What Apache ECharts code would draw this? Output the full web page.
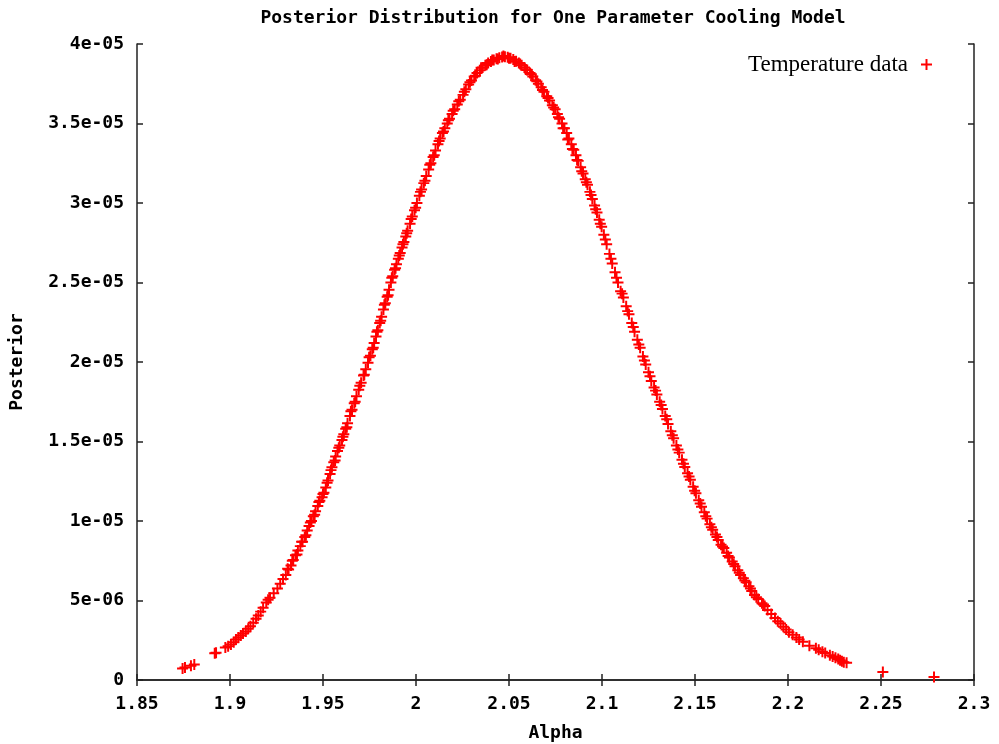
<!DOCTYPE html>
<html>
<head>
<meta charset="utf-8">
<script src="https://cdn.jsdelivr.net/npm/echarts@6/dist/echarts.min.js"></script>
<style>html,body{margin:0;padding:0;background:#fff}#c{width:999px;height:744px}</style>
</head>
<body>
<div id="c"></div>
<script>
const titleText = 'Posterior Distribution for One Parameter Cooling Model';
const xName = 'Alpha';
const yName = 'Posterior';
const seriesName = 'Temperature data';
const xTicks = [1.85, 1.9, 1.95, 2, 2.05, 2.1, 2.15, 2.2, 2.25, 2.3];
const yTicks = [0, 5e-6, 1e-5, 1.5e-5, 2e-5, 2.5e-5, 3e-5, 3.5e-5, 4e-5];

const alpha = [
1.8745,1.8758,1.8790,1.8808,1.8918,1.8925,1.8975,1.8990,1.9005,1.9020,1.9032,1.9045,1.9058,1.9070,1.9085,1.9098,1.9110,1.9125,1.9140,1.9152,
1.9165,1.9178,1.9195,1.9205,1.9215,1.9235,1.9255,1.9270,1.9285,1.9300,1.9315,1.9328,1.9340,1.9352,1.9365,1.9378,1.9390,1.9402,1.9415,1.9425,
1.9438,1.9448,1.9460,1.9472,1.9483,1.9495,1.9505,1.9515,1.9527,1.9538,1.9548,1.9558,1.9568,1.9578,1.9590,1.9602,1.9612,1.9622,1.9632,1.9645,
1.9656,1.9668,1.9680,1.9692,1.9705,1.9718,1.9730,1.9742,1.9755,1.9765,1.9775,1.9785,1.9795,1.9805,1.9815,1.9825,1.9835,1.9845,1.9855,1.9865,
1.9875,1.9885,1.9895,1.9905,1.9915,1.9925,1.9935,1.9945,1.9955,1.9968,1.9980,1.9992,2.0005,2.0018,2.0030,2.0042,2.0055,2.0068,2.0080,2.0092,
2.0105,2.0118,2.0130,2.0142,2.0155,2.0168,2.0180,2.0194,2.0208,2.0222,2.0238,2.0253,2.0268,2.0283,2.0298,2.0313,2.0328,2.0343,2.0358,2.0373,
2.0388,2.0403,2.0418,2.0433,2.0448,2.0463,2.0478,2.0493,2.0508,2.0523,2.0538,2.0553,2.0568,2.0583,2.0598,2.0613,2.0628,2.0643,2.0658,2.0673,
2.0688,2.0703,2.0718,2.0733,2.0748,2.0760,2.0772,2.0785,2.0798,2.0810,2.0822,2.0835,2.0848,2.0860,2.0872,2.0885,2.0898,2.0910,2.0922,2.0935,
2.0948,2.0960,2.0973,2.0985,2.0998,2.1010,2.1025,2.1040,2.1055,2.1070,2.1086,2.1100,2.1115,2.1130,2.1145,2.1160,2.1175,2.1190,2.1205,2.1220,
2.1235,2.1250,2.1265,2.1280,2.1295,2.1310,2.1325,2.1340,2.1355,2.1370,2.1385,2.1400,2.1415,2.1430,2.1445,2.1460,2.1475,2.1490,2.1505,2.1520,
2.1535,2.1550,2.1565,2.1580,2.1595,2.1610,2.1625,2.1640,2.1655,2.1670,2.1685,2.1700,2.1715,2.1730,2.1745,2.1760,2.1775,2.1790,2.1805,2.1820,
2.1840,2.1860,2.1875,2.1890,2.1910,2.1930,2.1945,2.1960,2.1975,2.1990,2.2005,2.2025,2.2045,2.2060,2.2080,2.2115,2.2150,2.2165,2.2185,2.2200,
2.2225,2.2240,2.2255,2.2270,2.2280,2.2290,2.2300,2.2315,2.2510,2.2785
];
const posterior = [
7.2e-7,7.8e-7,9.0e-7,9.8e-7,1.68e-6,1.72e-6,2.05e-6,2.13e-6,2.24e-6,2.38e-6,2.55e-6,2.68e-6,2.80e-6,2.92e-6,3.05e-6,3.22e-6,3.38e-6,3.60e-6,3.85e-6,4.05e-6,
4.30e-6,4.55e-6,4.88e-6,5.05e-6,5.18e-6,5.45e-6,5.75e-6,6.05e-6,6.35e-6,6.60e-6,6.95e-6,7.20e-6,7.55e-6,7.85e-6,8.15e-6,8.42e-6,8.70e-6,9.00e-6,9.40e-6,9.68e-6,
1.000e-5,1.030e-5,1.062e-5,1.095e-5,1.128e-5,1.150e-5,1.178e-5,1.210e-5,1.255e-5,1.295e-5,1.338e-5,1.370e-5,1.405e-5,1.440e-5,1.475e-5,1.510e-5,1.545e-5,1.580e-5,1.615e-5,1.660e-5,
1.700e-5,1.740e-5,1.785e-5,1.825e-5,1.870e-5,1.915e-5,1.955e-5,1.995e-5,2.040e-5,2.080e-5,2.120e-5,2.160e-5,2.200e-5,2.245e-5,2.285e-5,2.330e-5,2.370e-5,2.410e-5,2.455e-5,2.500e-5,
2.540e-5,2.580e-5,2.615e-5,2.650e-5,2.685e-5,2.720e-5,2.755e-5,2.790e-5,2.825e-5,2.870e-5,2.915e-5,2.955e-5,3.000e-5,3.045e-5,3.085e-5,3.125e-5,3.170e-5,3.210e-5,3.250e-5,3.290e-5,
3.330e-5,3.370e-5,3.405e-5,3.440e-5,3.470e-5,3.500e-5,3.530e-5,3.560e-5,3.590e-5,3.620e-5,3.650e-5,3.680e-5,3.715e-5,3.745e-5,3.770e-5,3.795e-5,3.818e-5,3.835e-5,3.852e-5,3.866e-5,
3.880e-5,3.890e-5,3.900e-5,3.908e-5,3.914e-5,3.918e-5,3.920e-5,3.916e-5,3.910e-5,3.902e-5,3.892e-5,3.880e-5,3.866e-5,3.852e-5,3.836e-5,3.818e-5,3.796e-5,3.772e-5,3.750e-5,3.728e-5,
3.700e-5,3.672e-5,3.645e-5,3.615e-5,3.590e-5,3.560e-5,3.530e-5,3.500e-5,3.470e-5,3.440e-5,3.405e-5,3.370e-5,3.335e-5,3.300e-5,3.265e-5,3.225e-5,3.185e-5,3.150e-5,3.115e-5,3.070e-5,
3.025e-5,2.985e-5,2.940e-5,2.895e-5,2.850e-5,2.800e-5,2.740e-5,2.680e-5,2.620e-5,2.565e-5,2.500e-5,2.445e-5,2.405e-5,2.350e-5,2.300e-5,2.245e-5,2.190e-5,2.140e-5,2.090e-5,2.035e-5,
1.985e-5,1.935e-5,1.880e-5,1.840e-5,1.795e-5,1.750e-5,1.705e-5,1.660e-5,1.610e-5,1.565e-5,1.520e-5,1.475e-5,1.430e-5,1.385e-5,1.340e-5,1.300e-5,1.260e-5,1.215e-5,1.175e-5,1.130e-5,
1.090e-5,1.055e-5,1.015e-5,9.80e-6,9.45e-6,9.15e-6,8.80e-6,8.50e-6,8.30e-6,8.00e-6,7.70e-6,7.45e-6,7.15e-6,6.90e-6,6.60e-6,6.40e-6,6.15e-6,5.90e-6,5.60e-6,5.35e-6,
5.10e-6,4.83e-6,4.65e-6,4.40e-6,4.15e-6,3.90e-6,3.70e-6,3.55e-6,3.35e-6,3.18e-6,3.00e-6,2.85e-6,2.68e-6,2.55e-6,2.40e-6,2.15e-6,2.00e-6,1.90e-6,1.78e-6,1.70e-6,
1.55e-6,1.48e-6,1.40e-6,1.32e-6,1.25e-6,1.18e-6,1.12e-6,1.08e-6,5.0e-7,1.9e-7
];

// additional overlapping samples
const alphaExtra = [
1.9310,1.9335,1.9360,1.9385,1.9408,1.9432,1.9455,1.9478,1.9500,1.9522,1.9543,1.9565,1.9585,1.9607,1.9628,1.9650,1.9673,1.9698,1.9722,1.9748,
1.9770,1.9790,1.9810,1.9830,1.9850,1.9870,1.9890,1.9910,1.9930,1.9950,1.9974,1.9998,2.0024,2.0048,2.0074,2.0098,2.0124,2.0148,2.0174,2.0200,
2.0230,2.0260,2.0290,2.0320,2.0350,2.0380,2.0410,2.0440,2.0470,2.0500,2.0530,2.0560,2.0590,2.0620,2.0650,2.0680,2.0710,2.0740,2.0766,2.0791,
2.0816,2.0841,2.0866,2.0891,2.0916,2.0941,2.0966,2.0991,2.1018,2.1048,2.1078,2.1108,2.1138,2.1168,2.1198,2.1228,2.1258,2.1288,2.1318,2.1348,
2.1378,2.1408,2.1438,2.1468,2.1498,2.1528,2.1558,2.1588,2.1618,2.1648,2.1678,2.1708,2.1738,2.1768,2.1798,2.1830,2.1868
];
const posteriorExtra = [
7.0e-6,7.5e-6,7.9e-6,8.7e-6,9.1e-6,9.9e-6,1.04e-5,1.12e-5,1.17e-5,1.24e-5,1.32e-5,1.38e-5,1.46e-5,1.53e-5,1.59e-5,1.69e-5,1.75e-5,1.85e-5,1.92e-5,2.03e-5,
2.09e-5,2.19e-5,2.26e-5,2.36e-5,2.42e-5,2.53e-5,2.59e-5,2.67e-5,2.74e-5,2.81e-5,2.90e-5,2.97e-5,3.07e-5,3.14e-5,3.24e-5,3.30e-5,3.39e-5,3.45e-5,3.52e-5,3.58e-5,
3.64e-5,3.70e-5,3.76e-5,3.80e-5,3.85e-5,3.87e-5,3.90e-5,3.905e-5,3.925e-5,3.91e-5,3.89e-5,3.875e-5,3.84e-5,3.81e-5,3.765e-5,3.71e-5,3.66e-5,3.60e-5,3.54e-5,3.47e-5,
3.40e-5,3.34e-5,3.27e-5,3.20e-5,3.13e-5,3.05e-5,2.96e-5,2.87e-5,2.77e-5,2.65e-5,2.53e-5,2.43e-5,2.32e-5,2.22e-5,2.11e-5,2.01e-5,1.91e-5,1.82e-5,1.73e-5,1.64e-5,
1.54e-5,1.45e-5,1.36e-5,1.28e-5,1.19e-5,1.11e-5,1.03e-5,9.6e-6,9.0e-6,8.4e-6,7.8e-6,7.3e-6,6.75e-6,6.25e-6,5.75e-6,5.2e-6,4.75e-6
];

const points = alpha.map((a, i) => [a, posterior[i]])
  .concat(alphaExtra.map((a, i) => [a, posteriorExtra[i]]));
const plusPath = 'path://M4.1,0H5.9V4.1H10V5.9H5.9V10H4.1V5.9H0V4.1H4.1Z';
const tickFont = { fontFamily: 'DejaVu Sans Mono', fontWeight: 'bold', fontSize: 18, color: '#000' };
const axisColor = '#222';

function fmtY(v) {
  if (v === 0) return '0';
  let s = parseFloat(v.toPrecision(6)).toExponential();
  return s.replace(/e([+-])(\d)$/, 'e$10$2');
}
function fmtX(v) { return String(parseFloat(v.toFixed(3))); }

const chart = echarts.init(document.getElementById('c'), null, { renderer: 'canvas' });
chart.setOption({
  animation: false,
  backgroundColor: '#fff',
  title: {
    text: titleText, left: 548, top: 4, textAlign: 'center',
    textStyle: { fontFamily: 'DejaVu Sans Mono', fontWeight: 'bold', fontSize: 18, color: '#000' }
  },
  legend: {
    data: [{ name: seriesName, icon: plusPath }],
    right: 62, top: 48, align: 'right', itemWidth: 11, itemHeight: 11, itemGap: 0,
    textStyle: { fontFamily: 'Liberation Serif', fontSize: 23, color: '#000', padding: [0, 8, 0, 0] }
  },
  grid: { left: 137, right: 25, top: 44, bottom: 64, containLabel: false, outerBoundsMode: 'none' },
  xAxis: [{
    type: 'value', min: 1.85, max: 2.3, interval: 0.05,
    name: xName, nameLocation: 'middle', nameGap: 44,
    nameTextStyle: tickFont,
    axisLine: { show: true, onZero: false, lineStyle: { color: axisColor, width: 1.5 } },
    axisTick: { show: true, inside: true, length: 6, lineStyle: { color: axisColor, width: 1.5 } },
    axisLabel: { formatter: fmtX, margin: 15, ...tickFont },
    splitLine: { show: false }
  }, {
    type: 'value', position: 'top', min: 1.85, max: 2.3, interval: 0.05,
    axisLine: { show: true, lineStyle: { color: axisColor, width: 1.5 } },
    axisTick: { show: true, inside: true, length: 6, lineStyle: { color: axisColor, width: 1.5 } },
    axisLabel: { show: false }, splitLine: { show: false }
  }],
  yAxis: [{
    type: 'value', min: 0, max: 4e-5, interval: 5e-6,
    name: yName, nameLocation: 'middle', nameGap: 111, nameRotate: 90,
    nameTextStyle: tickFont,
    axisLine: { show: true, onZero: false, lineStyle: { color: axisColor, width: 1.5 } },
    axisTick: { show: true, inside: true, length: 6, lineStyle: { color: axisColor, width: 1.5 } },
    axisLabel: { formatter: fmtY, margin: 13, ...tickFont },
    splitLine: { show: false }
  }, {
    type: 'value', position: 'right', min: 0, max: 4e-5, interval: 5e-6,
    axisLine: { show: true, lineStyle: { color: axisColor, width: 1.5 } },
    axisTick: { show: true, inside: true, length: 6, lineStyle: { color: axisColor, width: 1.5 } },
    axisLabel: { show: false }, splitLine: { show: false }
  }],
  series: [{
    name: seriesName, type: 'scatter', xAxisIndex: 0, yAxisIndex: 0,
    data: points, symbol: plusPath, symbolSize: 11,
    itemStyle: { color: '#ff0000', opacity: 1 }
  }]
});
</script>
</body>
</html>
